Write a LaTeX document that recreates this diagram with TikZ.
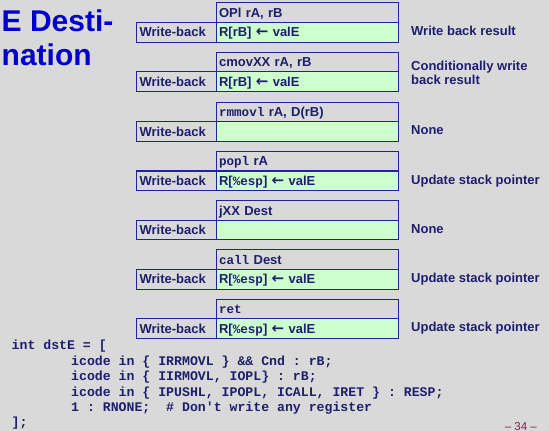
\documentclass[tikz,border=0pt]{standalone}
\usepackage{fontspec}
\setmainfont{Liberation Sans}
\setsansfont{Liberation Sans}
\setmonofont{Liberation Mono}
\newfontfamily\arrowfont{DejaVu Sans}
\definecolor{pagebg}{HTML}{D9D9D9}
\definecolor{titleblue}{HTML}{0000CC}
\definecolor{navy}{HTML}{1E1E6E}
\definecolor{boxc}{HTML}{22229A}
\definecolor{wbgreen}{HTML}{CCFFCC}
\definecolor{pgnum}{HTML}{802050}
\newcommand{\boxfont}{\bfseries\fontsize{13}{15}\selectfont}
\newcommand{\mono}[1]{{\ttfamily\bfseries\fontsize{12.6}{15}\selectfont #1}}
\newcommand{\getsarrow}{{\arrowfont\bfseries\fontsize{15}{15}\selectfont ←}}
\tikzset{
  hdr/.style={draw=boxc, line width=1.1pt, anchor=north west,
    minimum width=182pt, minimum height=19.6pt, text width=176pt,
    inner xsep=3pt, inner ysep=0pt, text height=9.3pt, text depth=0pt,
    align=left, font=\boxfont, text=navy},
  val/.style={hdr, fill=wbgreen},
  lbl/.style={hdr, minimum width=79.5pt, text width=73.5pt},
  note/.style={anchor=base west, align=left, inner sep=0pt,
    font=\bfseries\fontsize{13}{13.6}\selectfont, text=navy},
  code/.style={anchor=base west, inner sep=0pt, text=navy,
    font=\ttfamily\bfseries\fontsize{13.2}{15}\selectfont},
  title/.style={anchor=base west, inner sep=0pt, text=titleblue,
    font=\bfseries\fontsize{30}{34}\selectfont}
}
\begin{document}
\begin{tikzpicture}[x=1pt, y=-1pt]
  \fill[pagebg] (0,0) rectangle (549,431);
  \useasboundingbox (0,0) rectangle (549,431);

  % slide title
  \node[title] (t1) at (1.5,31.5) {E Desti-};
  \node[title] (t2) at (1.5,65.5) {nation};

  % OPl
  \node[hdr] (h1) at (215.5,2.3) {OPl rA, rB};
  \node[val] (v1) at (215.5,21.9) {R[rB] \getsarrow{} valE};
  \node[lbl] (l1) at (136,21.9) {Write-back};
  \node[note] (n1) at (411,35.7) {Write back result};

  % cmovXX
  \node[hdr] (h2) at (215.5,51.7) {cmovXX rA, rB};
  \node[val] (v2) at (215.5,71.3) {R[rB] \getsarrow{} valE};
  \node[lbl] (l2) at (136,71.3) {Write-back};
  \node[note] (n2) at (411,84.4) {Conditionally write\\back result};

  % rmmovl
  \node[hdr] (h3) at (215.5,101.5) {\mono{rmmovl} rA, D(rB)};
  \node[val] (v3) at (215.5,121.1) {};
  \node[lbl] (l3) at (136,121.1) {Write-back};
  \node[note] (n3) at (411,134.8) {None};

  % popl
  \node[hdr] (h4) at (215.5,150.8) {\mono{popl} rA};
  \node[val] (v4) at (215.5,170.4) {R[\mono{\%esp}] \getsarrow{} valE};
  \node[lbl] (l4) at (136,170.4) {Write-back};
  \node[note] (n4) at (411,184.1) {Update stack pointer};

  % jXX
  \node[hdr] (h5) at (215.5,200) {jXX Dest};
  \node[val] (v5) at (215.5,219.6) {};
  \node[lbl] (l5) at (136,219.6) {Write-back};
  \node[note] (n5) at (411,233.3) {None};

  % call
  \node[hdr] (h6) at (215.5,249.3) {\mono{call} Dest};
  \node[val] (v6) at (215.5,268.9) {R[\mono{\%esp}] \getsarrow{} valE};
  \node[lbl] (l6) at (136,268.9) {Write-back};
  \node[note] (n6) at (411,282.6) {Update stack pointer};

  % ret
  \node[hdr] (h7) at (215.5,298.6) {\mono{ret}};
  \node[val] (v7) at (215.5,318.2) {R[\mono{\%esp}] \getsarrow{} valE};
  \node[lbl] (l7) at (136,318.2) {Write-back};
  \node[note] (n7) at (411,331.9) {Update stack pointer};

  % HCL for dstE
  \node[code] (c1) at (11.5,349.8) {int dstE = [};
  \node[code] (c2) at (71,365.2) {icode in \{ IRRMOVL \} \&\& Cnd : rB;};
  \node[code] (c3) at (71,380.6) {icode in \{ IIRMOVL, IOPL\} : rB;};
  \node[code] (c4) at (71,396) {icode in \{ IPUSHL, IPOPL, ICALL, IRET \} : RESP;};
  \node[code] (c5) at (71,411.4) {1 : RNONE;\ \ \# Don't write any register};
  \node[code] (c6) at (11.5,426.8) {];};

  % page number
  \node[anchor=base east, inner sep=0pt, text=pgnum,
    font=\fontsize{11.5}{13}\selectfont] (pg) at (537,430) {– 34 –};
\end{tikzpicture}
\end{document}
